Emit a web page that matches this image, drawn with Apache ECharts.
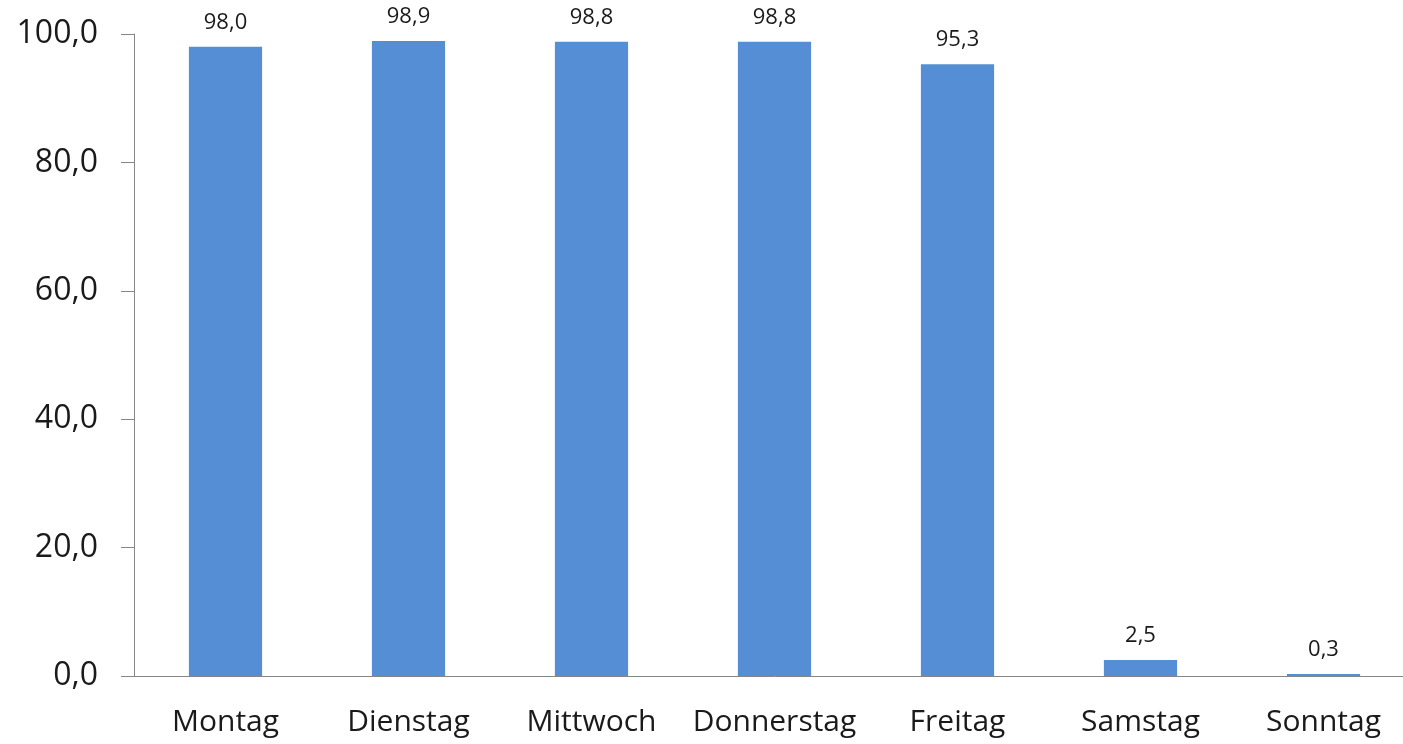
<!DOCTYPE html>
<html>
<head>
<meta charset="utf-8">
<script src="https://cdn.jsdelivr.net/npm/echarts@6/dist/echarts.min.js"></script>
<style>
  html, body { margin: 0; padding: 0; background: #fff; overflow: hidden; }
  /* the plot runs a little past the right edge of the window, as in the original */
  #chart { width: 1415px; height: 744px; }
</style>
</head>
<body>
<div id="chart"></div>
<script>
// Wochentage und Anteile
const days = ['Montag', 'Dienstag', 'Mittwoch', 'Donnerstag', 'Freitag', 'Samstag', 'Sonntag'];
const values = [98.0, 98.9, 98.8, 98.8, 95.3, 2.5, 0.3];
const yTicks = [0, 20, 40, 60, 80, 100];

const fmt = v => v.toFixed(1).replace('.', ',');
const font = '"Open Sans", "Noto Sans", sans-serif';

const chart = echarts.init(document.getElementById('chart'));
chart.setOption({
  animation: false,
  grid: { left: 134, right: 0, top: 34, bottom: 68 },
  xAxis: {
    type: 'category',
    data: days,
    axisLine: { lineStyle: { color: '#868686', width: 1 } },
    axisTick: { length: 11, lineStyle: { color: '#868686' } },
    axisLabel: { interval: 0, color: '#1a1a1a', fontSize: 30, fontFamily: font, margin: 31 }
  },
  yAxis: {
    type: 'value',
    min: yTicks[0],
    max: yTicks[yTicks.length - 1],
    interval: 20,
    splitLine: { show: false },
    axisLine: { show: true, lineStyle: { color: '#868686', width: 1 } },
    axisTick: { show: true, length: 13, lineStyle: { color: '#868686' } },
    axisLabel: { color: '#1a1a1a', fontSize: 32, fontFamily: font, margin: 36, formatter: fmt }
  },
  series: [{
    type: 'bar',
    data: values,
    barWidth: '40%',
    itemStyle: { color: '#558ED5' },
    label: {
      show: true,
      position: 'top',
      distance: 13,
      color: '#1a1a1a',
      fontSize: 22,
      fontFamily: font,
      formatter: p => fmt(p.value)
    }
  }]
});
</script>
</body>
</html>
